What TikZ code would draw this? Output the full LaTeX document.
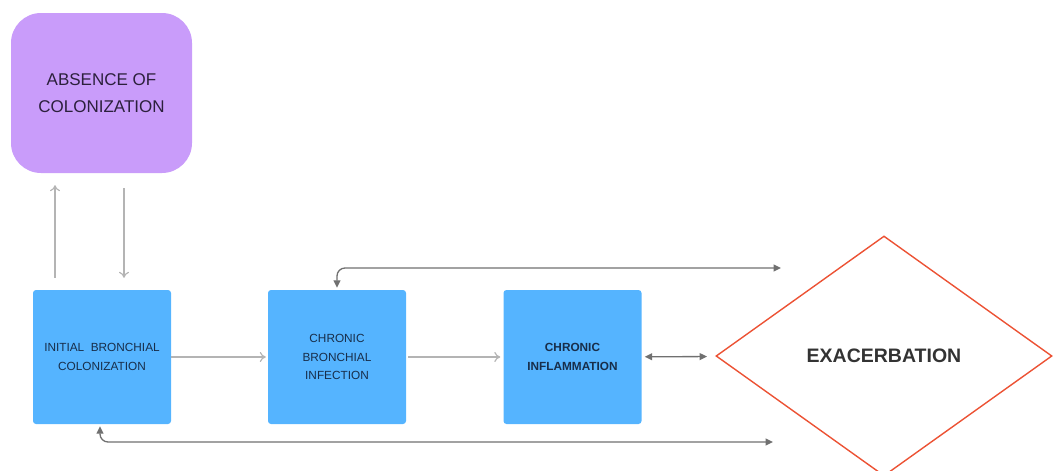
\documentclass[tikz,border=0pt]{standalone}
\usepackage{fontspec}
\setmainfont{Liberation Sans}
\usepackage{tikz}
\usetikzlibrary{shapes.geometric, arrows.meta}

\definecolor{lilac}{RGB}{201,156,250}
\definecolor{skyblue}{RGB}{85,180,255}
\definecolor{exred}{RGB}{236,82,52}
\definecolor{lightline}{RGB}{180,180,180}
\definecolor{darkline}{RGB}{112,112,112}
\definecolor{navytext}{RGB}{24,46,74}
\definecolor{plumtext}{RGB}{44,32,60}

\begin{document}
\begin{tikzpicture}[
            x=1pt, y=-1pt,
            stagebox/.style={
                fill=skyblue, rounded corners=3pt,
                minimum width=138pt, minimum height=134pt,
                align=center, text=navytext,
                font=\fontsize{11.8}{18.5}\selectfont
            },
            lightflow/.style={
                draw=lightline, line width=1.2pt,
                -{To[length=6pt,width=10pt]}
            },
            loopflow/.style={
                draw=darkline, line width=1.3pt, rounded corners=8pt,
                {Triangle[length=7.5pt,width=7pt]}-{Triangle[length=7.5pt,width=7pt]}
            }
        ]

            \useasboundingbox (0,0) rectangle (1053,471);

            % Starting state
            \node[fill=lilac, rounded corners=30pt, minimum width=181pt, minimum height=160pt,
                  align=center, text=plumtext, font=\fontsize{17}{27}\selectfont]
                (absence) at (101.5,93) {ABSENCE OF\\COLONIZATION};

            % Stages (left to right)
            \node[stagebox] (initial) at (102,357) {INITIAL~~BRONCHIAL\\COLONIZATION};
            \node[stagebox] (infection) at (337,357) {CHRONIC\\BRONCHIAL\\INFECTION};
            \node[stagebox, font=\bfseries\fontsize{11.8}{19}\selectfont] (inflam) at (572.5,357) {CHRONIC\\INFLAMMATION};

            % Exacerbation (runs off the lower edge)
            \node[draw=exred, line width=1.4pt, shape=diamond, minimum width=336pt, minimum height=240pt,
                  inner sep=0pt, text=black!80, font=\bfseries\fontsize{19.5}{22}\selectfont]
                (exac) at (884,356) {EXACERBATION};

            % Up and down between absence and initial colonization
            \draw[lightflow, shorten <=12pt, shorten >=12pt]
                ([xshift=-47pt]initial.north) -- ([xshift=-47pt]initial.north |- absence.south);
            \draw[lightflow, shorten <=15pt, shorten >=12pt]
                ([xshift=22pt]initial.north |- absence.south) -- ([xshift=22pt]initial.north);

            % Main progression
            \draw[lightflow, shorten >=2pt] (initial) -- (infection);
            \draw[lightflow, shorten <=2pt, shorten >=3pt] (infection) -- (inflam);
            \draw[loopflow, shorten <=3pt, shorten >=9pt] (inflam) -- (exac);

            % Feedback loops
            \coordinate (topend) at (781,268);
            \coordinate (botend) at (773,442);
            \draw[loopflow, shorten <=2pt] (infection.north) |- (topend);
            \draw[loopflow, shorten <=2pt] ([xshift=-2pt]initial.south) |- (botend);

        \end{tikzpicture}
\end{document}
